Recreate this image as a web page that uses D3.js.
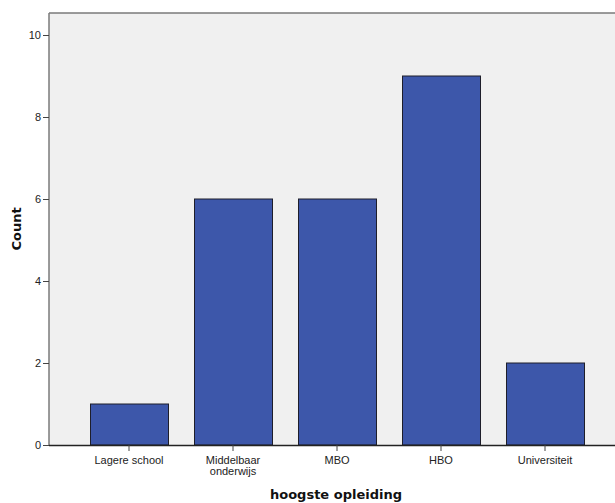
<!DOCTYPE html>
<html><head><meta charset="utf-8">
<script src="https://cdn.jsdelivr.net/npm/d3@7"></script>
<style>body{margin:0;background:#fff}svg{display:block}</style>
</head><body>
<svg id="c" width="615" height="503"></svg>
<script>
const categories = ["Lagere school", "Middelbaar onderwijs", "MBO", "HBO", "Universiteit"];
const labelLines = [["Lagere school"], ["Middelbaar", "onderwijs"], ["MBO"], ["HBO"], ["Universiteit"]];
const counts = [1, 6, 6, 9, 2];
const yTicks = [0, 2, 4, 6, 8, 10];

const svg = d3.select("#c");
const plot = {left: 49, top: 13, right: 615, bottom: 445};
const x = d3.scaleBand().domain(categories).range([77, 597]).paddingInner(0.25).paddingOuter(0.125);
const y = d3.scaleLinear().domain([0, 10]).range([plot.bottom, 35]);

svg.append("rect").attr("x", plot.left).attr("y", plot.top)
  .attr("width", plot.right - plot.left).attr("height", plot.bottom - plot.top).attr("fill", "#f0f0f0");
// top & left borders
svg.append("line").attr("x1", plot.left).attr("x2", plot.right).attr("y1", plot.top).attr("y2", plot.top)
  .attr("stroke", "#7a7a7a").attr("stroke-width", 1.5);
svg.append("line").attr("x1", plot.left).attr("x2", plot.left).attr("y1", plot.top).attr("y2", plot.bottom)
  .attr("stroke", "#7a7a7a").attr("stroke-width", 1.5);

svg.selectAll("rect.bar").data(counts).join("rect").attr("class", "bar")
  .attr("x", (d, i) => x(categories[i]) + 0.5)
  .attr("y", d => y(d))
  .attr("width", x.bandwidth())
  .attr("height", d => plot.bottom - y(d))
  .attr("fill", "#3d57aa").attr("stroke", "#1e1e2a").attr("stroke-width", 1);

// y axis
const yAxis = d3.axisLeft(y).tickValues(yTicks).tickSize(6).tickSizeOuter(0).tickPadding(2);
const gy = svg.append("g").attr("transform", `translate(${plot.left},0)`).call(yAxis);
gy.select(".domain").remove();
gy.selectAll(".tick line").attr("stroke", "#444");
gy.selectAll(".tick text").attr("font-family", "Liberation Sans, Arial, sans-serif").attr("font-size", 11).attr("fill", "#222");

// x axis
const xAxis = d3.axisBottom(x).tickSize(6).tickSizeOuter(0).tickFormat("");
const gx = svg.append("g").attr("transform", `translate(0,${plot.bottom})`).call(xAxis);
gx.select(".domain").attr("d", `M${plot.left},0.5H${plot.right}`).attr("stroke", "#222").attr("stroke-width", 1.5);
gx.selectAll(".tick line").attr("stroke", "#444");
gx.selectAll(".tick").each(function(d, i) {
  const t = d3.select(this).append("text").attr("fill", "#222")
    .attr("font-family", "Liberation Sans, Arial, sans-serif").attr("font-size", 11)
    .attr("text-anchor", "middle");
  labelLines[i].forEach((l, j) => t.append("tspan").attr("x", 0).attr("y", 19 + j * 11).text(l));
});

svg.append("text").attr("transform", "translate(21,229) rotate(-90)")
  .attr("text-anchor", "middle").attr("font-family", "DejaVu Sans, sans-serif")
  .attr("font-weight", "bold").attr("font-size", 13).attr("fill", "#111").text("Count");
svg.append("text").attr("x", 336).attr("y", 499)
  .attr("text-anchor", "middle").attr("font-family", "DejaVu Sans, sans-serif")
  .attr("font-weight", "bold").attr("font-size", 13).attr("fill", "#111").text("hoogste opleiding");
</script>
</body></html>
